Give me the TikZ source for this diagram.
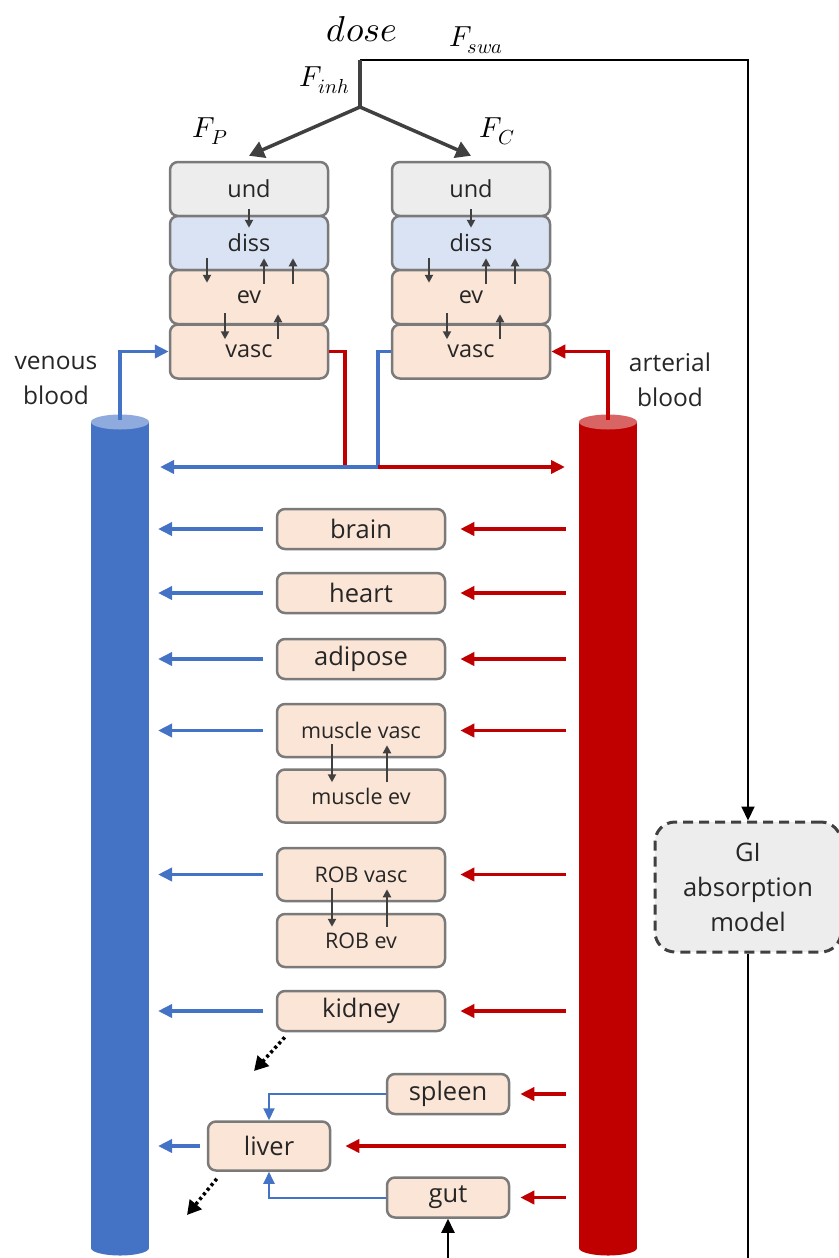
\documentclass[tikz,border=0pt]{standalone}
\usepackage{fontspec}
\setmainfont{Open Sans}
\usepackage{unicode-math}
\setmathfont{Latin Modern Math}
\usetikzlibrary{arrows.meta}
\definecolor{vblue}{HTML}{4472C4}
\definecolor{vbluelt}{HTML}{8FAADC}
\definecolor{ared}{HTML}{C00000}
\definecolor{aredlt}{HTML}{D96464}
\definecolor{peach}{HTML}{FBE5D6}
\definecolor{lblue}{HTML}{DAE3F3}
\definecolor{lgray}{HTML}{EDEDED}
\definecolor{bord}{HTML}{7A7A7A}
\definecolor{dgray}{HTML}{404040}
\definecolor{txt}{HTML}{262626}
\begin{document}
\begin{tikzpicture}[x=1pt,y=-1pt,
  box/.style={draw=bord, line width=2.5pt, rounded corners=8pt, fill=peach, inner sep=0pt, text=txt},
  lung/.style={box, minimum width=158pt, minimum height=54pt, font=\fontsize{23.5}{28}\selectfont},
  organ/.style={box, minimum width=168pt, minimum height=40pt, font=\fontsize{25.5}{30}\selectfont},
  organtwo/.style={box, minimum width=168pt, minimum height=53pt, font=\fontsize{21.5}{26}\selectfont},
  small/.style={box, minimum width=122pt, minimum height=40pt, font=\fontsize{25.5}{30}\selectfont},
  sarr/.style={draw=dgray, line width=2pt, -{Triangle[length=8pt,width=8pt]}},
  barr/.style={draw=vblue, line width=3.5pt, -{Triangle[length=14pt,width=13pt]}},
  rarr/.style={draw=ared, line width=3.5pt, -{Triangle[length=14pt,width=13pt]}},
  bthin/.style={draw=vblue, line width=2pt, -{Triangle[length=12pt,width=11pt]}},
  dotarr/.style={draw=black, line width=3.5pt, dash pattern=on 3pt off 3pt, -{Triangle[length=14pt,width=15pt]}},
  blk/.style={draw=black, line width=2pt},
  lbl/.style={text=txt, font=\fontsize{24.5}{35}\selectfont, align=center},
  flbl/.style={font=\fontsize{29}{32}\selectfont}
]
\useasboundingbox (0,0) rectangle (838,1258);

% ---- cylinders
\fill[vblue] (91,422) rectangle (149,1248);
\fill[vblue] (120,1248) ellipse (29pt and 7.5pt);
\fill[vbluelt] (120,422) ellipse (29pt and 7.5pt);
\fill[ared] (579,422) rectangle (637,1248);
\fill[ared] (608,1248) ellipse (29pt and 7.5pt);
\fill[aredlt] (608,422) ellipse (29pt and 7.5pt);
\coordinate (vtop) at (120,420);
\coordinate (atop) at (608,420);
\coordinate (vR) at (158,0);
\coordinate (aL) at (566,0);

% ---- labels
\node[font=\fontsize{36}{40}\selectfont] (dose) at (362,29) {$dose$};
\node[flbl] (fswa) at (476,40) {$F_{swa}$};
\node[flbl] (finh) at (325,80) {$F_{inh}$};
\node[flbl] (fp) at (210,131) {$F_{P}$};
\node[flbl] (fc) at (497,131) {$F_{C}$};
\node[lbl] (venous) at (56,380) {venous\\blood};
\node[lbl] (arterial) at (670,380) {arterial\\blood};

% ---- lung stacks
\node[lung, fill=lgray] (pund) at (249,189) {und};
\node[lung, fill=lblue] (pdiss) at (249,243) {diss};
\node[lung] (pev) at (249,297) {ev};
\node[lung] (pvasc) at (249,351.5) {vasc};
\node[lung, fill=lgray] (cund) at (471,189) {und};
\node[lung, fill=lblue] (cdiss) at (471,243) {diss};
\node[lung] (cev) at (471,297) {ev};
\node[lung] (cvasc) at (471,351.5) {vasc};

\foreach \p in {p,c}{
  \draw[sarr] ([yshift=8pt]\p und.south) -- ([yshift=-13pt]\p diss.north);
  \draw[sarr] ([shift={(-42pt,13pt)}]\p diss.south) -- ([shift={(-42pt,-14pt)}]\p ev.north);
  \draw[sarr] ([shift={(15pt,-15pt)}]\p ev.north) -- ([shift={(15pt,13pt)}]\p diss.south);
  \draw[sarr] ([shift={(44pt,-15pt)}]\p ev.north) -- ([shift={(44pt,13pt)}]\p diss.south);
  \draw[sarr] ([shift={(-24pt,12pt)}]\p ev.south) -- ([shift={(-24pt,-16pt)}]\p vasc.north);
  \draw[sarr] ([shift={(29pt,-16pt)}]\p vasc.north) -- ([shift={(29pt,11pt)}]\p ev.south);
}

% ---- dose routing
\coordinate (split) at (360,60);
\coordinate (branch) at (360,107);
\node[box, draw=dgray, dash pattern=on 10pt off 6pt, line width=3pt, fill=lgray, rounded corners=20pt,
  minimum width=186pt, minimum height=130pt, align=center, font=\fontsize{25.5}{35}\selectfont] (gi) at (748,887) {GI\\absorption\\model};
\draw[blk, -{Triangle[length=14pt,width=13pt]}] (split) -| (gi.north);
\draw[draw=dgray, line width=3.5pt] (split) -- (branch);
\draw[draw=dgray, line width=3.5pt, -{Triangle[length=15pt,width=17pt]}] (branch) -- ([yshift=5pt]pund.north);
\draw[draw=dgray, line width=3.5pt, -{Triangle[length=15pt,width=17pt]}] (branch) -- ([yshift=5pt]cund.north);

% ---- lung blood connections
\coordinate (mixL) at (160,467);
\coordinate (mixR) at (565,467);
\draw[barr] (vtop) |- (pvasc.west);
\draw[rarr] (atop) |- (cvasc.east);
\draw[rarr, -] (pvasc.east) -| (345,467);
\draw[barr, -] (cvasc.west) -| (378,467);
\draw[rarr] (345,467) -- (mixR);
\draw[barr] (378,467) -- (mixL);

% ---- organs
\node[organ] (brain) at (361,529) {brain};
\node[organ] (heart) at (361,593) {heart};
\node[organ] (adipose) at (361,659) {adipose};
\node[organtwo] (mvasc) at (361,730.5) {muscle vasc};
\node[organtwo] (mev) at (361,796) {muscle ev};
\node[organtwo] (rvasc) at (361,874.5) {ROB vasc};
\node[organtwo] (rev) at (361,940.5) {ROB ev};
\node[organ] (kidney) at (361,1011) {kidney};
\node[small] (spleen) at (448,1094) {spleen};
\node[small, minimum height=49pt] (liver) at (269,1146) {liver};
\node[small] (gut) at (448,1197.5) {gut};

\foreach \o in {brain,heart,adipose,mvasc,rvasc,kidney}{
  \draw[barr] ([xshift=-13pt]\o.west) -- (\o.west -| vR);
  \draw[rarr] (\o.east -| aL) -- ([xshift=14pt]\o.east);
}
\draw[sarr] ([shift={(-29pt,14pt)}]mvasc.south) -- ([shift={(-29pt,-14pt)}]mev.north);
\draw[sarr] ([shift={(26pt,-14pt)}]mev.north) -- ([shift={(26pt,13pt)}]mvasc.south);
\draw[sarr] ([shift={(-29pt,14pt)}]rvasc.south) -- ([shift={(-29pt,-14pt)}]rev.north);
\draw[sarr] ([shift={(26pt,-14pt)}]rev.north) -- ([shift={(26pt,13pt)}]rvasc.south);

\draw[rarr] (spleen.east -| aL) -- ([xshift=10pt]spleen.east);
\draw[rarr] (gut.east -| aL) -- ([xshift=10pt]gut.east);
\draw[rarr] (liver.east -| aL) -- ([xshift=14pt]liver.east);
\draw[barr] ([xshift=-7pt]liver.west) -- (liver.west -| vR);
\draw[bthin] (spleen.west) -| (liver.north);
\draw[bthin] (gut.west) -| (liver.south);

\coordinate (kout) at (254,1071);
\coordinate (lout) at (187,1215);
\draw[dotarr] ([shift={(9pt,-5pt)}]kidney.south west) -- (kout);
\draw[dotarr] ([shift={(10pt,-7pt)}]liver.south west) -- (lout);

% ---- GI to gut (continues below the frame)
\coordinate (botGI) at (748,1258);
\coordinate (botGut) at (448,1258);
\draw[blk] (gi.south) -- (botGI);
\draw[blk, -{Triangle[length=14pt,width=13pt]}] (botGut) -- (gut.south);
\end{tikzpicture}
\end{document}
